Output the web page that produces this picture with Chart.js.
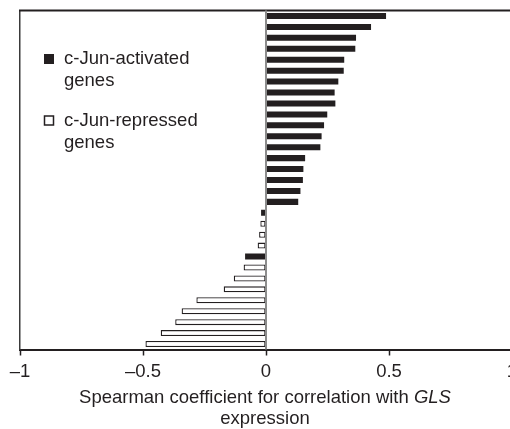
<!DOCTYPE html>
<html>
<head>
<meta charset="utf-8">
<script src="https://cdn.jsdelivr.net/npm/chart.js@4/dist/chart.umd.min.js"></script>
<style>
html,body{margin:0;padding:0;overflow:hidden;background:#fff;}
#wrap{width:530px;height:429px;}
</style>
</head>
<body>
<div id="wrap"><canvas id="c" width="530" height="429"></canvas></div>
<script>
// Genes ranked by Spearman coefficient (top to bottom)
const genes = ['1','2','3','4','5','6','7','8','9','10','11','12','13','14','15','16',
               '17','18','19','20','21','22','23','24','25','26','27','28','29','30','31'];
const activated = [0.488,0.427,0.366,0.363,0.318,0.316,0.294,0.279,0.282,0.249,0.236,0.226,
                   0.221,0.159,0.152,0.150,0.140,0.131,-0.020,null,null,null,-0.085,null,
                   null,null,null,null,null,null,null];
const repressed = [null,null,null,null,null,null,null,null,null,null,null,null,null,null,null,
                   null,null,null,null,-0.023,-0.028,-0.034,null,-0.091,-0.131,-0.172,-0.283,
                   -0.343,-0.369,-0.428,-0.490];
const tickValues = [-1,-0.5,0,0.5,1];
const tickLabels = ['\u20131','\u20130.5','0','0.5','1'];
const legendLabels = [['c-Jun-activated','genes'],['c-Jun-repressed','genes']];
const axisTitle = ['Spearman coefficient for correlation with ','GLS','expression'];

const INK = '#231f20';
const FONT = '"Liberation Sans", Arial, Helvetica, sans-serif';
const FS = 18.5;

const decor = {
  id: 'decor',
  afterDatasetsDraw(chart) {
    const {ctx, chartArea: a, scales: {x}} = chart;
    ctx.save();
    // top frame line
    ctx.strokeStyle = INK; ctx.lineWidth = 2;
    ctx.beginPath(); ctx.moveTo(a.left - 1, a.top); ctx.lineTo(a.right + 2, a.top); ctx.stroke();
    // zero line
    const x0 = x.getPixelForValue(0);
    ctx.strokeStyle = '#8c8c8c'; ctx.lineWidth = 2;
    ctx.beginPath(); ctx.moveTo(x0, a.top); ctx.lineTo(x0, a.bottom); ctx.stroke();
    // legend
    ctx.font = FS + 'px ' + FONT;
    ctx.textBaseline = 'middle'; ctx.textAlign = 'left'; ctx.fillStyle = INK;
    const items = [
      {y: 59, fill: INK, stroke: null},
      {y: 120.5, fill: '#ffffff', stroke: INK}
    ];
    items.forEach((it, i) => {
      if (it.stroke) {
        ctx.fillStyle = it.fill; ctx.fillRect(44.5, it.y - 4.5, 9, 9);
        ctx.strokeStyle = it.stroke; ctx.lineWidth = 1.5; ctx.strokeRect(44.5, it.y - 4.5, 9, 9);
      } else {
        ctx.fillStyle = it.fill; ctx.fillRect(44, it.y - 5, 10, 10);
      }
      ctx.fillStyle = INK;
      legendLabels[i].forEach((t, j) => ctx.fillText(t, 64, it.y + j * 22));
    });
    // axis title
    ctx.textAlign = 'left';
    const fN = FS + 'px ' + FONT, fI = 'italic ' + FS + 'px ' + FONT;
    ctx.font = fN; const w1 = ctx.measureText(axisTitle[0]).width;
    ctx.font = fI; const w2 = ctx.measureText(axisTitle[1]).width;
    const sx = 265 - (w1 + w2) / 2;
    ctx.font = fN; ctx.fillText(axisTitle[0], sx, 398);
    ctx.font = fI; ctx.fillText(axisTitle[1], sx + w1, 398);
    ctx.font = fN; ctx.textAlign = 'center'; ctx.fillText(axisTitle[2], 265, 419);
    ctx.restore();
  }
};

new Chart(document.getElementById('c'), {
  type: 'bar',
  data: {
    labels: genes,
    datasets: [
      {label: 'c-Jun-activated genes', data: activated, backgroundColor: INK, borderWidth: 0},
      {label: 'c-Jun-repressed genes', data: repressed, backgroundColor: '#ffffff',
       borderColor: INK, borderWidth: 1.3, borderSkipped: false}
    ]
  },
  options: {
    indexAxis: 'y',
    responsive: false,
    animation: false,
    grouped: false,
    barPercentage: 0.55,
    categoryPercentage: 1,
    layout: {padding: {top: 10.5, right: 18, left: 0, bottom: 0}},
    plugins: {legend: {display: false}, tooltip: {enabled: false}},
    scales: {
      x: {
        type: 'linear', min: -1, max: 1,
        afterBuildTicks: s => { s.ticks = tickValues.map(v => ({value: v})); },
        ticks: {
          color: INK, padding: 5, maxRotation: 0, autoSkip: false,
          font: {family: FONT, size: FS},
          callback: v => tickLabels[tickValues.indexOf(v)]
        },
        grid: {drawOnChartArea: false, drawTicks: true, tickLength: 6, tickColor: INK, tickWidth: 1.5},
        border: {color: INK, width: 2},
        afterFit: s => { s.height = 79.5; }
      },
      y: {
        type: 'category',
        ticks: {display: false},
        grid: {display: false, drawTicks: false},
        border: {display: true, color: '#3a3a3a', width: 1.5},
        afterFit: s => { s.width = 20; }
      }
    }
  },
  plugins: [decor]
});
</script>
</body>
</html>
